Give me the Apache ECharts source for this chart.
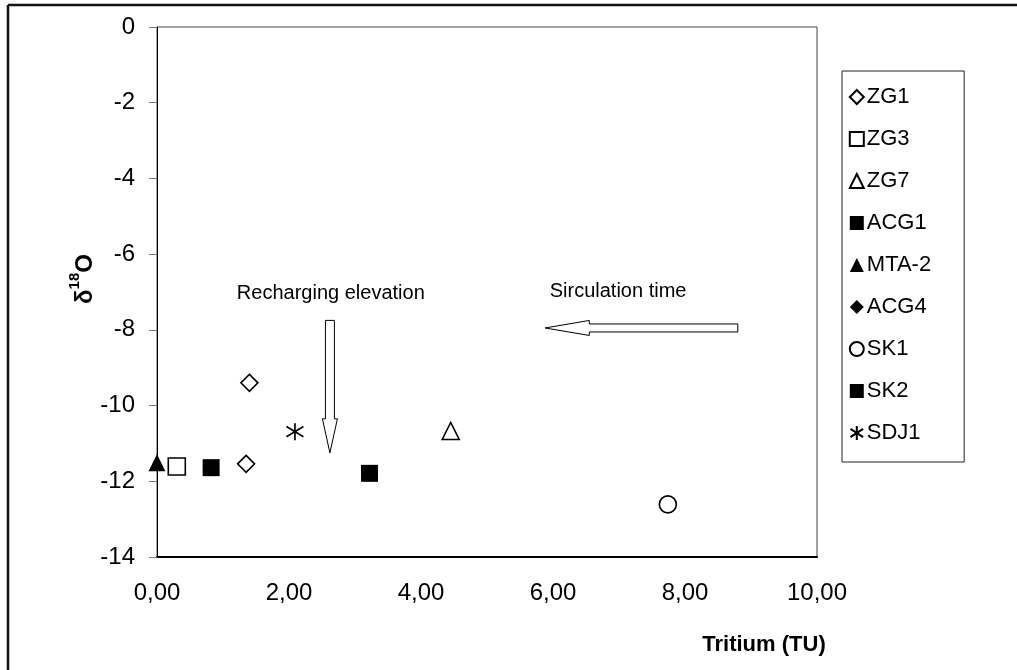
<!DOCTYPE html>
<html>
<head>
<meta charset="utf-8">
<script src="https://cdn.jsdelivr.net/npm/echarts@6/dist/echarts.min.js"></script>
<style>
html,body{margin:0;padding:0;background:#fff;}
#chart{width:1017px;height:670px;}
</style>
</head>
<body>
<div id="chart"></div>
<script>
// ---- data (Tritium TU, delta 18O) ----
const ZG1 = [[1.40, -9.40], [1.35, -11.54]];
const ZG3 = [[0.30, -11.61]];
const ZG7 = [[4.45, -10.67]];
const ACG1 = [[0.82, -11.64]];
const MTA2 = [[0.00, -11.51]];
const ACG4 = [];
const SK1 = [[7.74, -12.61]];
const SK2 = [[3.22, -11.79]];
const SDJ1 = [[2.09, -10.69]];

const seriesNames = ['ZG1', 'ZG3', 'ZG7', 'ACG1', 'MTA-2', 'ACG4', 'SK1', 'SK2', 'SDJ1'];
const xTickLabels = ['0,00', '2,00', '4,00', '6,00', '8,00', '10,00'];
const yTickLabels = ['-14', '-12', '-10', '-8', '-6', '-4', '-2', '0'];
const annotationTexts = ['Recharging elevation', 'Sirculation time'];

// ---- styling ----
const FONT = 'Liberation Sans, Arial, Helvetica, sans-serif';
const hollow = { color: '#fff', borderColor: '#000', borderWidth: 1.6, opacity: 1 };
const filled = { color: '#000', borderColor: '#000', borderWidth: 0, opacity: 1 };
const asterisk = 'path://M0,-10L0,10M-9,-6L9,6M-9,6L9,-6';

const seriesDefs = [
  { data: ZG1, symbol: 'diamond', style: hollow },
  { data: ZG3, symbol: 'rect', style: hollow },
  { data: ZG7, symbol: 'triangle', style: hollow },
  { data: ACG1, symbol: 'rect', style: filled },
  { data: MTA2, symbol: 'triangle', style: filled },
  { data: ACG4, symbol: 'diamond', style: filled },
  { data: SK1, symbol: 'circle', style: hollow },
  { data: SK2, symbol: 'rect', style: filled },
  { data: SDJ1, symbol: asterisk, style: { color: 'none', borderColor: '#000', borderWidth: 1.7, opacity: 1 } }
];

const chart = echarts.init(document.getElementById('chart'), null, { renderer: 'canvas' });

const option = {
  animation: false,
  backgroundColor: '#fff',
  textStyle: { fontFamily: FONT },
  grid: {
    left: 157, right: 200, top: 27, bottom: 113,
    show: true, borderColor: '#444', borderWidth: 1, backgroundColor: '#fff'
  },
  legend: {
    orient: 'vertical',
    left: 842, top: 71,
    padding: [15, 33, 18, 6],
    itemWidth: 14, itemHeight: 14, itemGap: 20,
    borderColor: '#222', borderWidth: 1,
    backgroundColor: '#fff',
    textStyle: { fontSize: 22, color: '#000', fontFamily: FONT, lineHeight: 22, padding: [0, 0, 0, -2] },
    data: seriesNames
  },
  xAxis: {
    type: 'value', min: 0, max: 10, interval: 2,
    axisLine: { show: true, onZero: false, lineStyle: { color: '#000', width: 2 } },
    axisTick: { show: false },
    splitLine: { show: false },
    axisLabel: {
      fontSize: 24, color: '#000', margin: 24, fontFamily: FONT,
      formatter: (v) => xTickLabels[Math.round(v / 2)]
    }
  },
  yAxis: {
    type: 'value', min: -14, max: 0, interval: 2,
    axisLine: { show: true, onZero: false, lineStyle: { color: '#000', width: 1 } },
    axisTick: { show: true, length: 8, lineStyle: { color: '#777', width: 1 } },
    splitLine: { show: false },
    axisLabel: {
      fontSize: 24, color: '#000', margin: 22, fontFamily: FONT,
      formatter: (v) => yTickLabels[Math.round((v + 14) / 2)]
    }
  },
  series: seriesDefs.map((d, i) => ({
    name: seriesNames[i],
    type: 'scatter',
    data: d.data,
    symbol: d.symbol,
    symbolSize: 17,
    clip: false,
    itemStyle: d.style,
    emphasis: { disabled: true }
  }))
};

chart.setOption(option);

// annotation arrows defined in data coordinates
const vArrow = { x: 2.62, yTop: -7.75, yHeadBase: -10.35, yTip: -11.25 };
const hArrow = { y: -7.95, xTail: 8.80, xHeadBase: 6.55, xTip: 5.88 };
const P = (x, y) => chart.convertToPixel({ gridIndex: 0 }, [x, y]);

const vt = P(vArrow.x, vArrow.yTop), vb = P(vArrow.x, vArrow.yHeadBase), vtip = P(vArrow.x, vArrow.yTip);
const sh = 4.5, hh = 7.5;
const vPoints = [
  [vt[0] - sh, vt[1]], [vt[0] + sh, vt[1]], [vb[0] + sh, vb[1]], [vb[0] + hh, vb[1]],
  [vtip[0], vtip[1]], [vb[0] - hh, vb[1]], [vb[0] - sh, vb[1]]
];
const ht = P(hArrow.xTail, hArrow.y), hb = P(hArrow.xHeadBase, hArrow.y), htip = P(hArrow.xTip, hArrow.y);
const hs = 4, hhh = 7.5;
const hPoints = [
  [ht[0], ht[1] - hs], [ht[0], ht[1] + hs], [hb[0], hb[1] + hs], [hb[0], hb[1] + hhh],
  [htip[0], htip[1]], [hb[0], hb[1] - hhh], [hb[0], hb[1] - hs]
];
const t1 = P(1.21, -7.05), t2 = P(5.95, -6.98);

chart.setOption({
  graphic: [
    // outer frame
    { type: 'line', shape: { x1: 8, y1: 5, x2: 1017, y2: 5 }, style: { stroke: '#111', lineWidth: 2.5 }, silent: true },
    { type: 'line', shape: { x1: 8, y1: 5, x2: 8, y2: 670 }, style: { stroke: '#111', lineWidth: 2.5 }, silent: true },
    // arrows
    { type: 'polygon', shape: { points: vPoints }, style: { fill: '#fff', stroke: '#000', lineWidth: 1 }, z: 10 },
    { type: 'polygon', shape: { points: hPoints }, style: { fill: '#fff', stroke: '#000', lineWidth: 1 }, z: 10 },
    // annotation texts
    { type: 'text', x: t1[0], y: t1[1], z: 10,
      style: { text: annotationTexts[0], font: '20px ' + FONT, fill: '#000', align: 'left', verticalAlign: 'middle' } },
    { type: 'text', x: t2[0], y: t2[1], z: 10,
      style: { text: annotationTexts[1], font: '20px ' + FONT, fill: '#000', align: 'left', verticalAlign: 'middle' } },
    // axis titles
    { type: 'text', x: 764, y: 645, z: 10,
      style: { text: 'Tritium (TU)', font: 'bold 22px ' + FONT, fill: '#000', align: 'center', verticalAlign: 'middle' } },
    { type: 'text', x: 82, y: 279, rotation: Math.PI / 2, z: 10,
      style: {
        text: '{a|δ}{b|18}{c|O}', align: 'center', verticalAlign: 'middle', fill: '#000',
        rich: {
          a: { fontFamily: FONT, fontWeight: 'bold', fontSize: 24, lineHeight: 30, verticalAlign: 'bottom' },
          b: { fontFamily: FONT, fontWeight: 'bold', fontSize: 15, lineHeight: 30, verticalAlign: 'top' },
          c: { fontFamily: FONT, fontWeight: 'bold', fontSize: 24, lineHeight: 30, verticalAlign: 'bottom' }
        }
      } }
  ]
});
</script>
</body>
</html>
